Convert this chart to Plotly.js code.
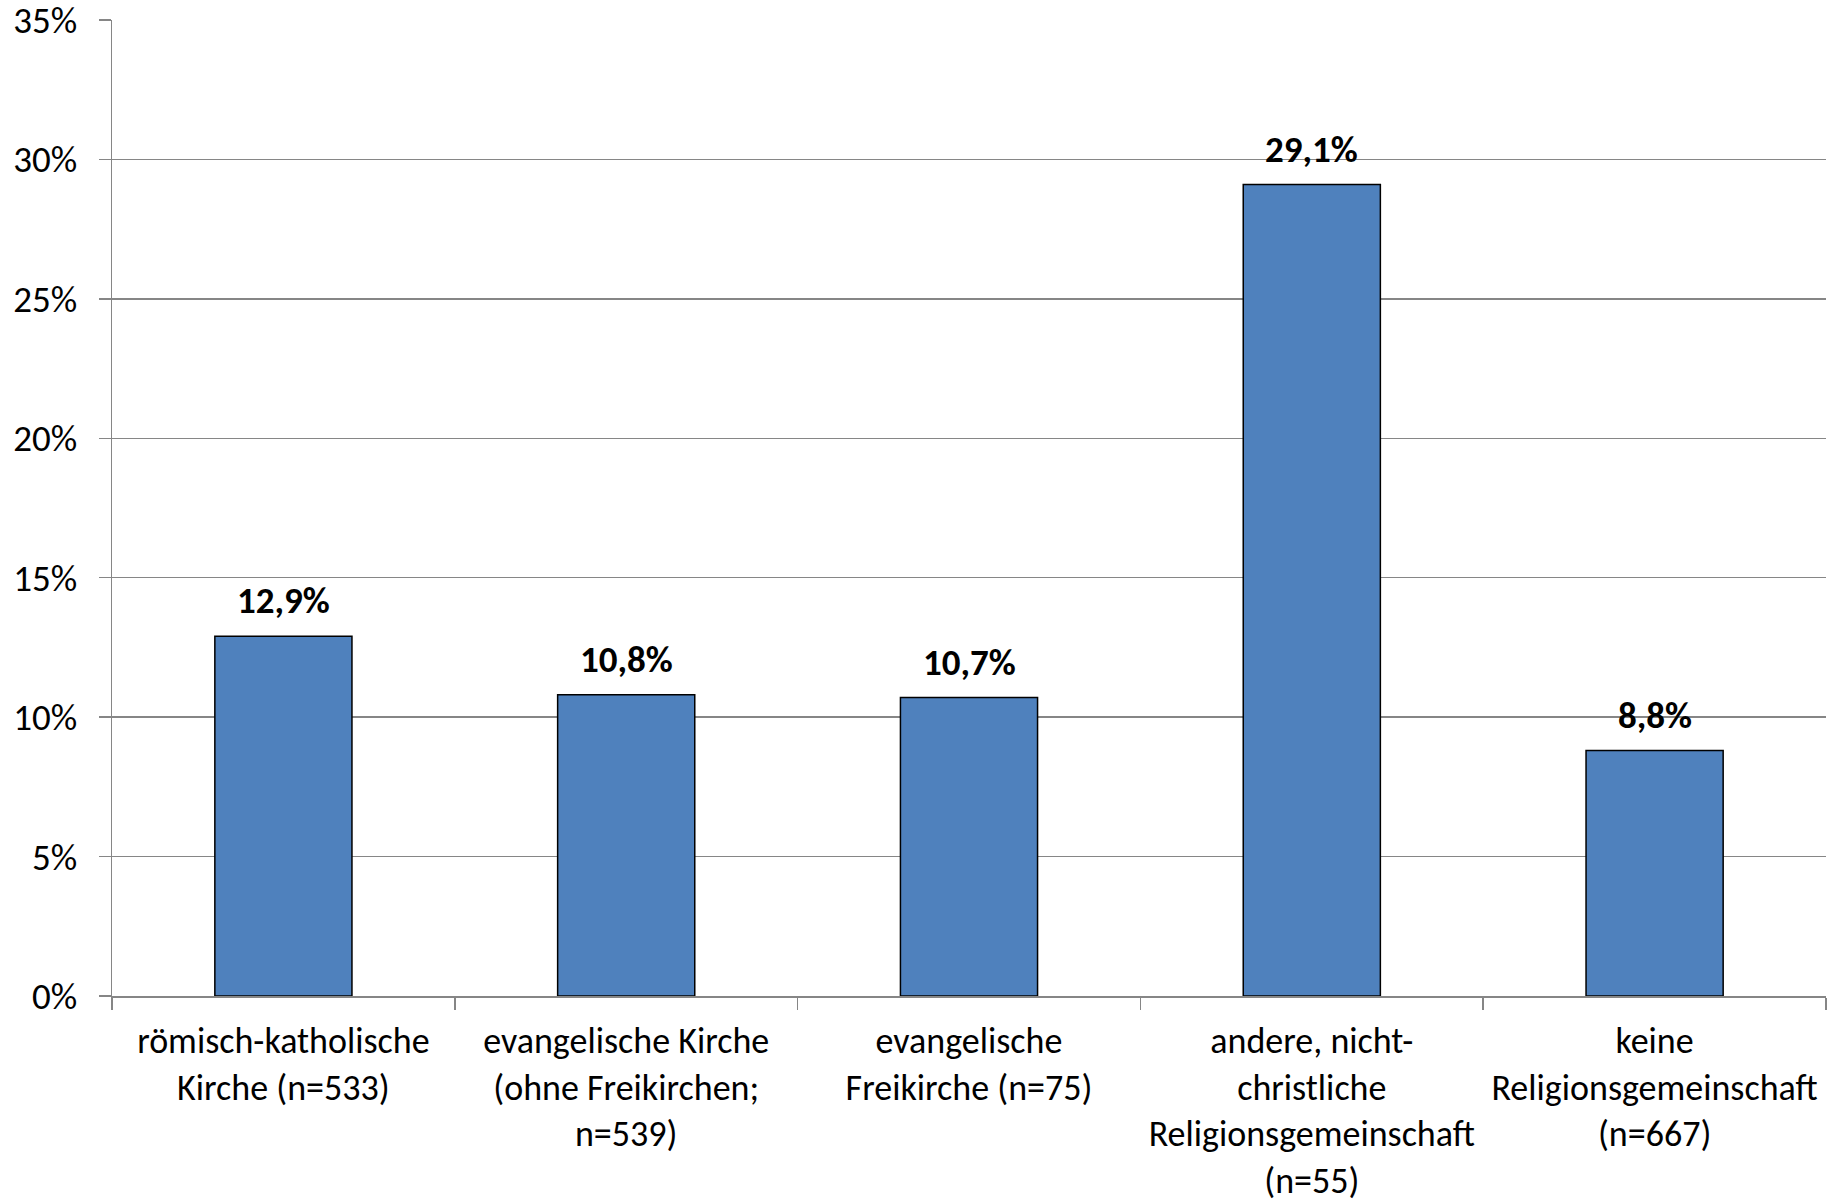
<!DOCTYPE html>
<html>
<head>
<meta charset="utf-8">
<script src="https://cdn.plot.ly/plotly-3.0.1.min.js"></script>
<style>html,body{margin:0;padding:0;background:#fff}#chart{width:1845px;height:1199px}</style>
</head>
<body>
<div id="chart"></div>
<script>
var categories = [
  "römisch-katholische<br>Kirche (n=533)",
  "evangelische Kirche<br>(ohne Freikirchen;<br>n=539)",
  "evangelische<br>Freikirche (n=75)",
  "andere, nicht-<br>christliche<br>Religionsgemeinschaft<br>(n=55)",
  "keine<br>Religionsgemeinschaft<br>(n=667)"
];
var values = [12.9, 10.8, 10.7, 29.1, 8.8];
var yTickValues = [0, 5, 10, 15, 20, 25, 30, 35];
var yTickLabels = ["0%", "5%", "10%", "15%", "20%", "25%", "30%", "35%"];

var labels = values.map(function(v){ return v.toFixed(1).replace('.', ',') + '%'; });
var FONT = "Carlito, Lato, 'Liberation Sans', sans-serif";
var GRAY = '#868686';

var trace = {
  type: 'bar',
  x: categories,
  y: values,
  marker: {color: '#4F81BD', line: {color: '#000', width: 1.5}},
  hoverinfo: 'none'
};

var annotations = categories.map(function(c, i){
  return {
    x: c, y: values[i], xref: 'x', yref: 'y',
    text: '<b>' + labels[i] + '</b>',
    showarrow: false, xanchor: 'center', yanchor: 'bottom', yshift: 11,
    font: {family: FONT, size: 37, color: '#000'}
  };
});

var layout = {
  width: 1845, height: 1199,
  margin: {l: 112, r: 19, t: 20, b: 203},
  paper_bgcolor: '#fff', plot_bgcolor: '#fff',
  showlegend: false,
  bargap: 0.6,
  font: {family: FONT, color: '#000', size: 36},
  annotations: annotations,
  xaxis: {
    type: 'category',
    showline: true, linecolor: GRAY, linewidth: 1.5,
    ticks: 'outside', tickson: 'boundaries', ticklen: 12, tickcolor: GRAY, tickwidth: 1.5,
    showgrid: false,
    tickangle: 0,
    tickfont: {family: FONT, size: 36, color: '#000'},
    ticklabelstandoff: 12,
    ticklabeloverflow: 'allow'
  },
  yaxis: {
    range: [0, 35],
    tickvals: yTickValues, ticktext: yTickLabels,
    showline: true, linecolor: GRAY, linewidth: 1.5,
    ticks: 'outside', ticklen: 12, tickcolor: GRAY, tickwidth: 1.5,
    showgrid: true, gridcolor: GRAY, gridwidth: 1.5,
    zeroline: false,
    tickfont: {family: FONT, size: 37, color: '#000'},
    ticklabelstandoff: 14,
    ticklabeloverflow: 'allow'
  }
};

Plotly.newPlot('chart', [trace], layout, {staticPlot: true, displayModeBar: false});
</script>
</body>
</html>
